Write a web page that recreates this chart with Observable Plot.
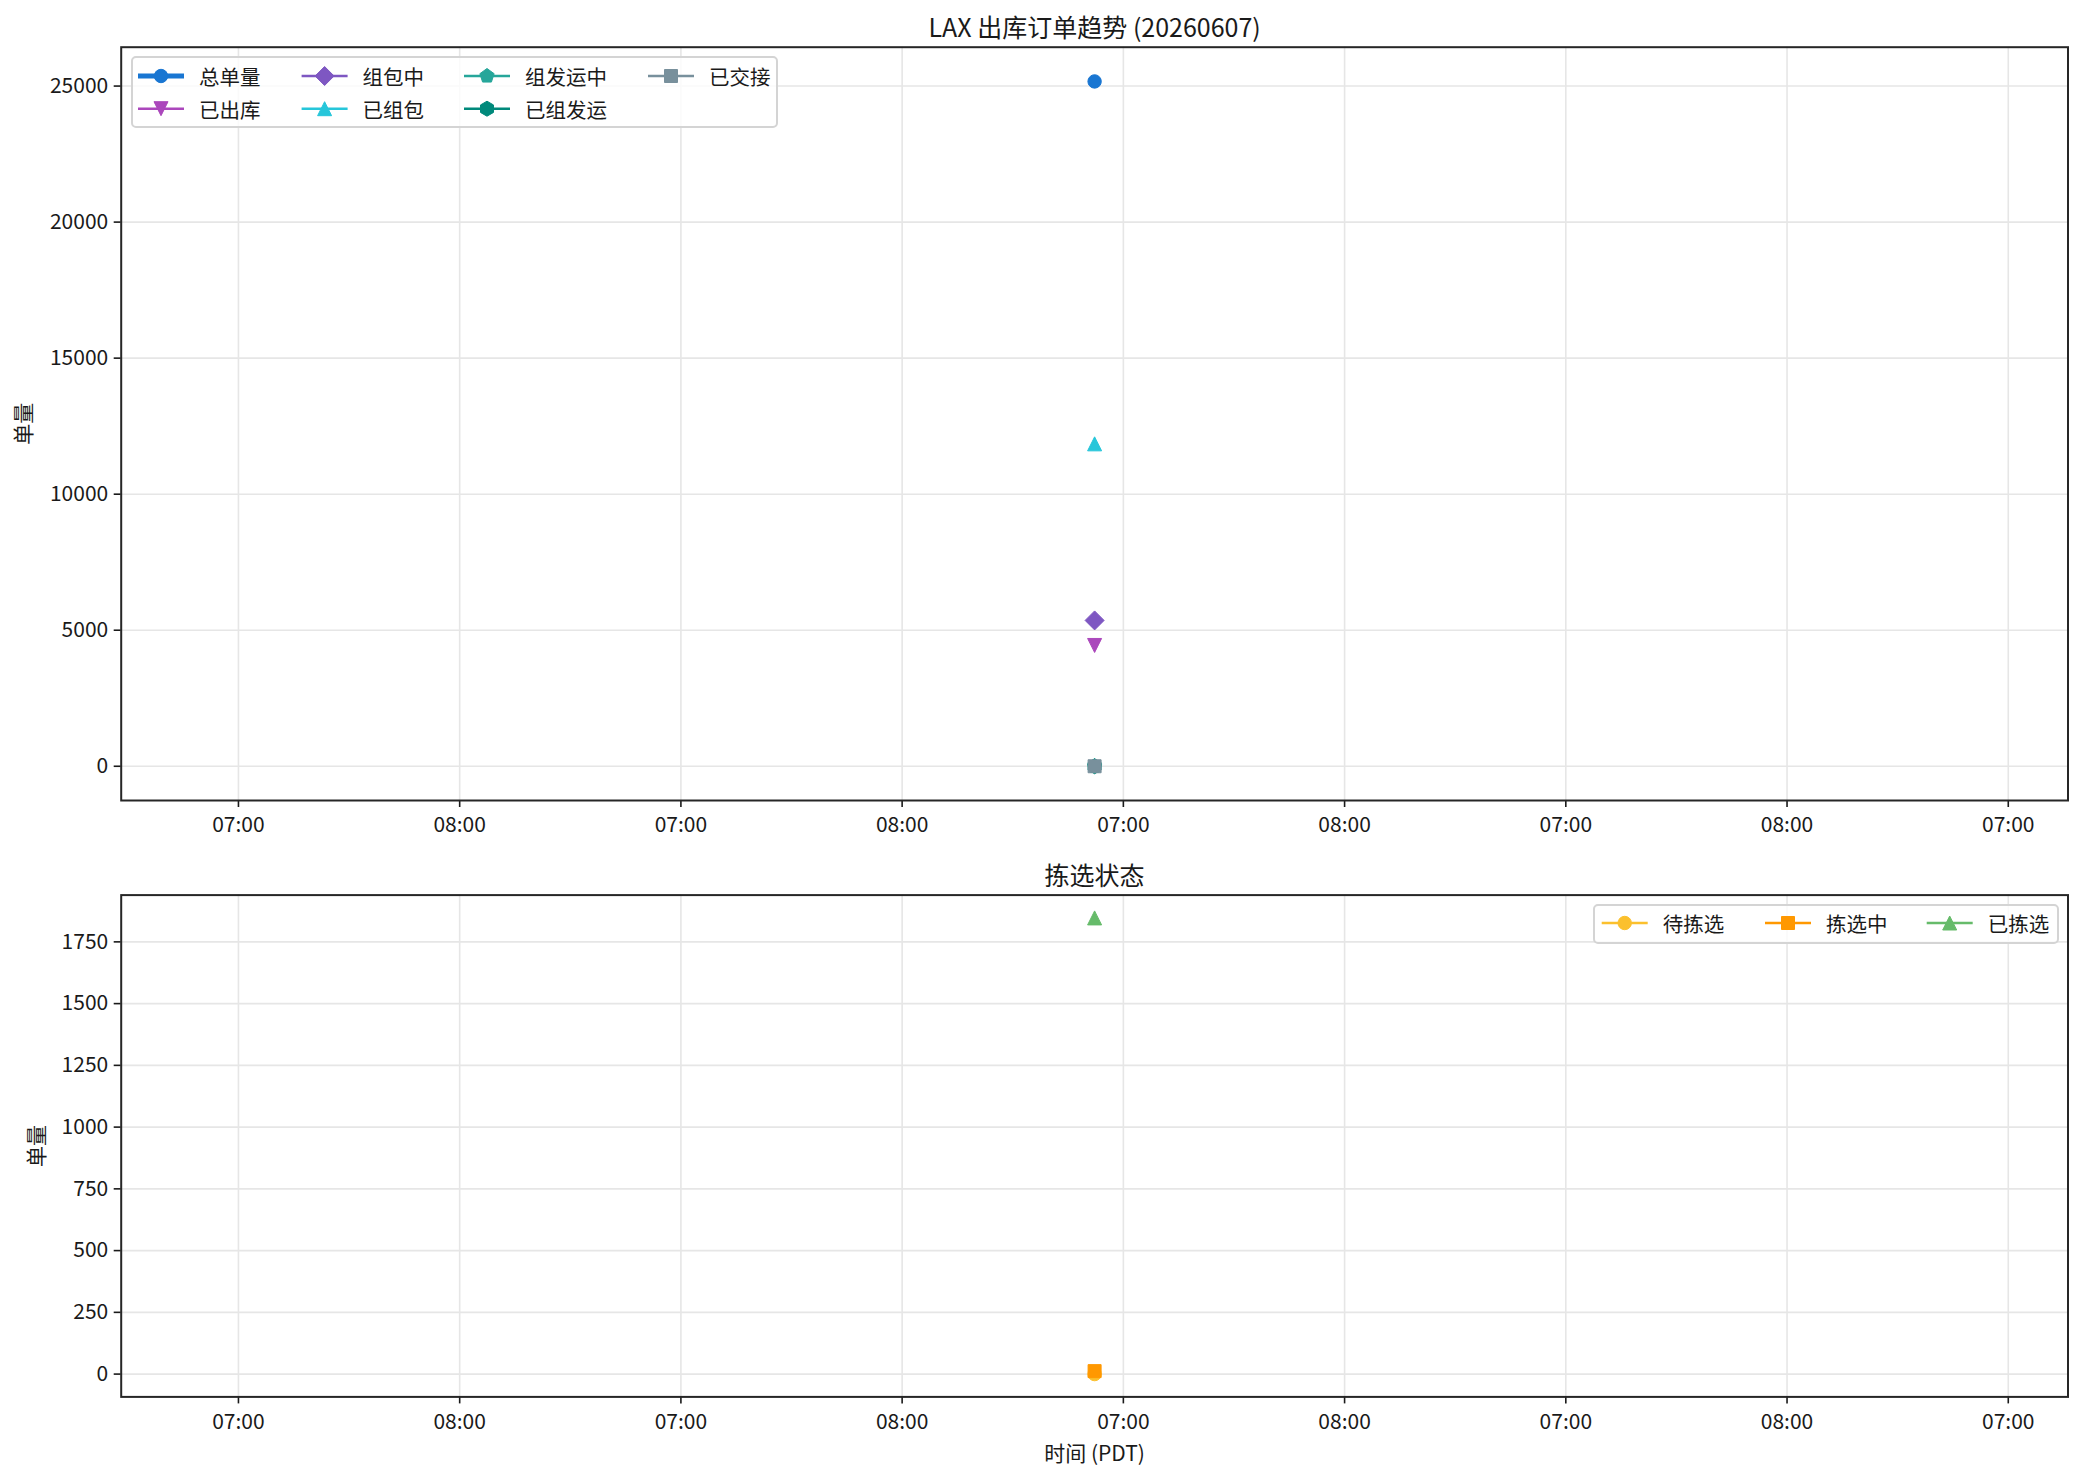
<!DOCTYPE html>
<html>
<head>
<meta charset="utf-8">
<script src="https://cdn.jsdelivr.net/npm/d3@7"></script>
<script src="https://cdn.jsdelivr.net/npm/@observablehq/plot@0.6"></script>
<style>
  html, body { margin: 0; padding: 0; background: #fff; overflow: hidden; }
  #fig { position: relative; width: 2083px; height: 1479px; }
  #fig svg { position: absolute; left: 0; }
</style>
</head>
<body>
<div id="fig"></div>
<script>
// snapshot position, in units of x tick index
const snapshotTimes = [3.87];
const xTickLabels = ["07:00", "08:00", "07:00", "08:00", "07:00", "08:00", "07:00", "08:00", "07:00"];

const orderSeries = ["总单量", "已出库", "组包中", "已组包", "组发运中", "已组发运", "已交接"];
const orderValues = [25170, 4440, 5360, 11850, 0, 0, 0];
const orderTicks = [0, 5000, 10000, 15000, 20000, 25000];

const pickSeries = ["待拣选", "拣选中", "已拣选"];
const pickValues = [0, 12, 1847];
const pickTicks = [0, 250, 500, 750, 1000, 1250, 1500, 1750];

// styles
const orderColors = ["#1976D2", "#AB47BC", "#7E57C2", "#26C6DA", "#26A69A", "#00897B", "#78909C"];
const orderShapes = ["circle", "down", "diamond", "up", "pentagon", "hexagon", "square"];
const orderSizes = [6.7, 7, 9.5, 7, 7.5, 7.5, 6.5];
const pickColors = ["#FBC02D", "#FF9800", "#66BB6A"];
const pickShapes = ["circle", "square", "up"];
const pickSizes = [6.7, 6.5, 7];

const FONT = "'Noto Sans CJK SC', 'Noto Sans', sans-serif";
const INK = "#1a1a1a";
const GRID = "#e6e6e6";

function shape(kind, h) {
    return {
        draw(ctx) {
            if (kind === "circle") {
                ctx.moveTo(h, 0);
                ctx.arc(0, 0, h, 0, 2 * Math.PI);
            } else if (kind === "square") {
                ctx.rect(-h, -h, 2 * h, 2 * h);
            } else if (kind === "diamond") {
                ctx.moveTo(0, -h); ctx.lineTo(h, 0); ctx.lineTo(0, h); ctx.lineTo(-h, 0); ctx.closePath();
            } else if (kind === "up") {
                ctx.moveTo(0, -h); ctx.lineTo(h, h); ctx.lineTo(-h, h); ctx.closePath();
            } else if (kind === "down") {
                ctx.moveTo(0, h); ctx.lineTo(h, -h); ctx.lineTo(-h, -h); ctx.closePath();
            } else {
                const n = kind === "pentagon" ? 5 : 6;
                for (let k = 0; k < n; k++) {
                    const a = -Math.PI / 2 + (2 * Math.PI * k) / n;
                    k ? ctx.lineTo(h * Math.cos(a), h * Math.sin(a)) : ctx.moveTo(h * Math.cos(a), h * Math.sin(a));
                }
                ctx.closePath();
            }
        }
    };
}

function paddedDomain(values) {
    const lo = d3.min(values), hi = d3.max(values);
    const pad = (hi - lo) * 0.05;
    return [lo - pad, hi + pad];
}

function panel(opts) {
    const rows = opts.series.map((name, i) => ({name, time: snapshotTimes[0], value: opts.values[i]}));
    const xTicks = d3.range(xTickLabels.length);
    const chart = Plot.plot({
        width: 2083,
        height: opts.height,
        marginTop: opts.marginTop,
        marginBottom: opts.marginBottom,
        marginLeft: 120.7,
        marginRight: 15.5,
        style: {fontFamily: FONT, fontSize: "21px", color: INK, background: "transparent", overflow: "visible"},
        x: {domain: [-0.53, 8.27]},
        y: {domain: paddedDomain(opts.values)},
        marks: [
            Plot.gridX(xTicks, {stroke: GRID, strokeOpacity: 1, strokeWidth: 1.6}),
            Plot.gridY(opts.yTicks, {stroke: GRID, strokeOpacity: 1, strokeWidth: 1.6}),
            Plot.axisX(xTicks, {tickFormat: (d) => xTickLabels[d], tickSize: 7, tickPadding: 10, strokeWidth: 1.6, label: null}),
            Plot.axisY(opts.yTicks, {tickFormat: d3.format("d"), tickSize: 7, tickPadding: 6, strokeWidth: 1.6, label: null}),
            ...rows.map((row, i) =>
                Plot.dot([row], {
                    x: "time",
                    y: "value",
                    fill: opts.colors[i],
                    stroke: opts.colors[i],
                    strokeWidth: 1,
                    symbol: shape(opts.shapes[i], opts.sizes[i]),
                })
            ),
            Plot.frame({stroke: "#262626", strokeWidth: 2}),
            Plot.text([opts.title], {frameAnchor: "top", dy: -10, lineAnchor: "bottom", fontSize: 25}),
            Plot.text(["单量"], {frameAnchor: "left", dx: opts.yLabelDx, rotate: -90, lineAnchor: "middle", textAnchor: "middle", fontSize: 21}),
            ...(opts.xLabel ? [Plot.text([opts.xLabel], {frameAnchor: "bottom", dy: 57, lineAnchor: "middle", fontSize: 21})] : []),
        ],
    });
    chart.style.top = opts.top + "px";
    document.querySelector("#fig").append(chart);
}

panel({
    top: 0, height: 840, marginTop: 46.7, marginBottom: 40,
    series: orderSeries, values: orderValues, colors: orderColors, shapes: orderShapes, sizes: orderSizes,
    yTicks: orderTicks, title: "LAX 出库订单趋势 (20260607)", yLabelDx: -97.4,
});

panel({
    top: 850, height: 629, marginTop: 44.6, marginBottom: 82.6,
    series: pickSeries, values: pickValues, colors: pickColors, shapes: pickShapes, sizes: pickSizes,
    yTicks: pickTicks, title: "拣选状态", yLabelDx: -84, xLabel: "时间 (PDT)",
});

// legends, drawn on top of both panels
const legendSvg = d3.select("#fig").append("svg")
    .attr("width", 2083).attr("height", 1479)
    .style("top", "0px").style("pointer-events", "none")
    .style("font-family", FONT).style("font-size", "20.5px");

function legend(box, series, colors, shapes, sizes, place, widths) {
    legendSvg.append("rect")
        .attr("x", box[0]).attr("y", box[1]).attr("width", box[2]).attr("height", box[3])
        .attr("rx", 4).attr("fill", "#fff").attr("fill-opacity", 0.8)
        .attr("stroke", "#d4d4d4").attr("stroke-width", 2);
    series.forEach((name, i) => {
        const [x0, y0] = place(i);
        const g = legendSvg.append("g");
        g.append("line").attr("x1", x0).attr("x2", x0 + 46).attr("y1", y0).attr("y2", y0)
            .attr("stroke", colors[i]).attr("stroke-width", widths[i]);
        const p = d3.path();
        shape(shapes[i], sizes[i]).draw(p);
        g.append("path").attr("d", p.toString()).attr("transform", `translate(${x0 + 23},${y0})`)
            .attr("fill", colors[i]).attr("stroke", colors[i]).attr("stroke-width", 1);
        g.append("text").attr("x", x0 + 61).attr("y", y0).attr("dominant-baseline", "central")
            .attr("fill", INK).text(name);
    });
}

const orderCols = [138, 301.6, 464, 648];
const orderRows = [76, 108.7];
legend([132, 57, 645, 70], orderSeries, orderColors, orderShapes, orderSizes,
    (i) => [orderCols[Math.floor(i / 2)], orderRows[i % 2]],
    orderSeries.map((d, i) => (i === 0 ? 5 : 2.6)));

const pickCols = [1601.7, 1765, 1926.7];
legend([1594, 905, 464, 38], pickSeries, pickColors, pickShapes, pickSizes,
    (i) => [pickCols[i], 923],
    pickSeries.map(() => 2.6));
</script>
</body>
</html>
